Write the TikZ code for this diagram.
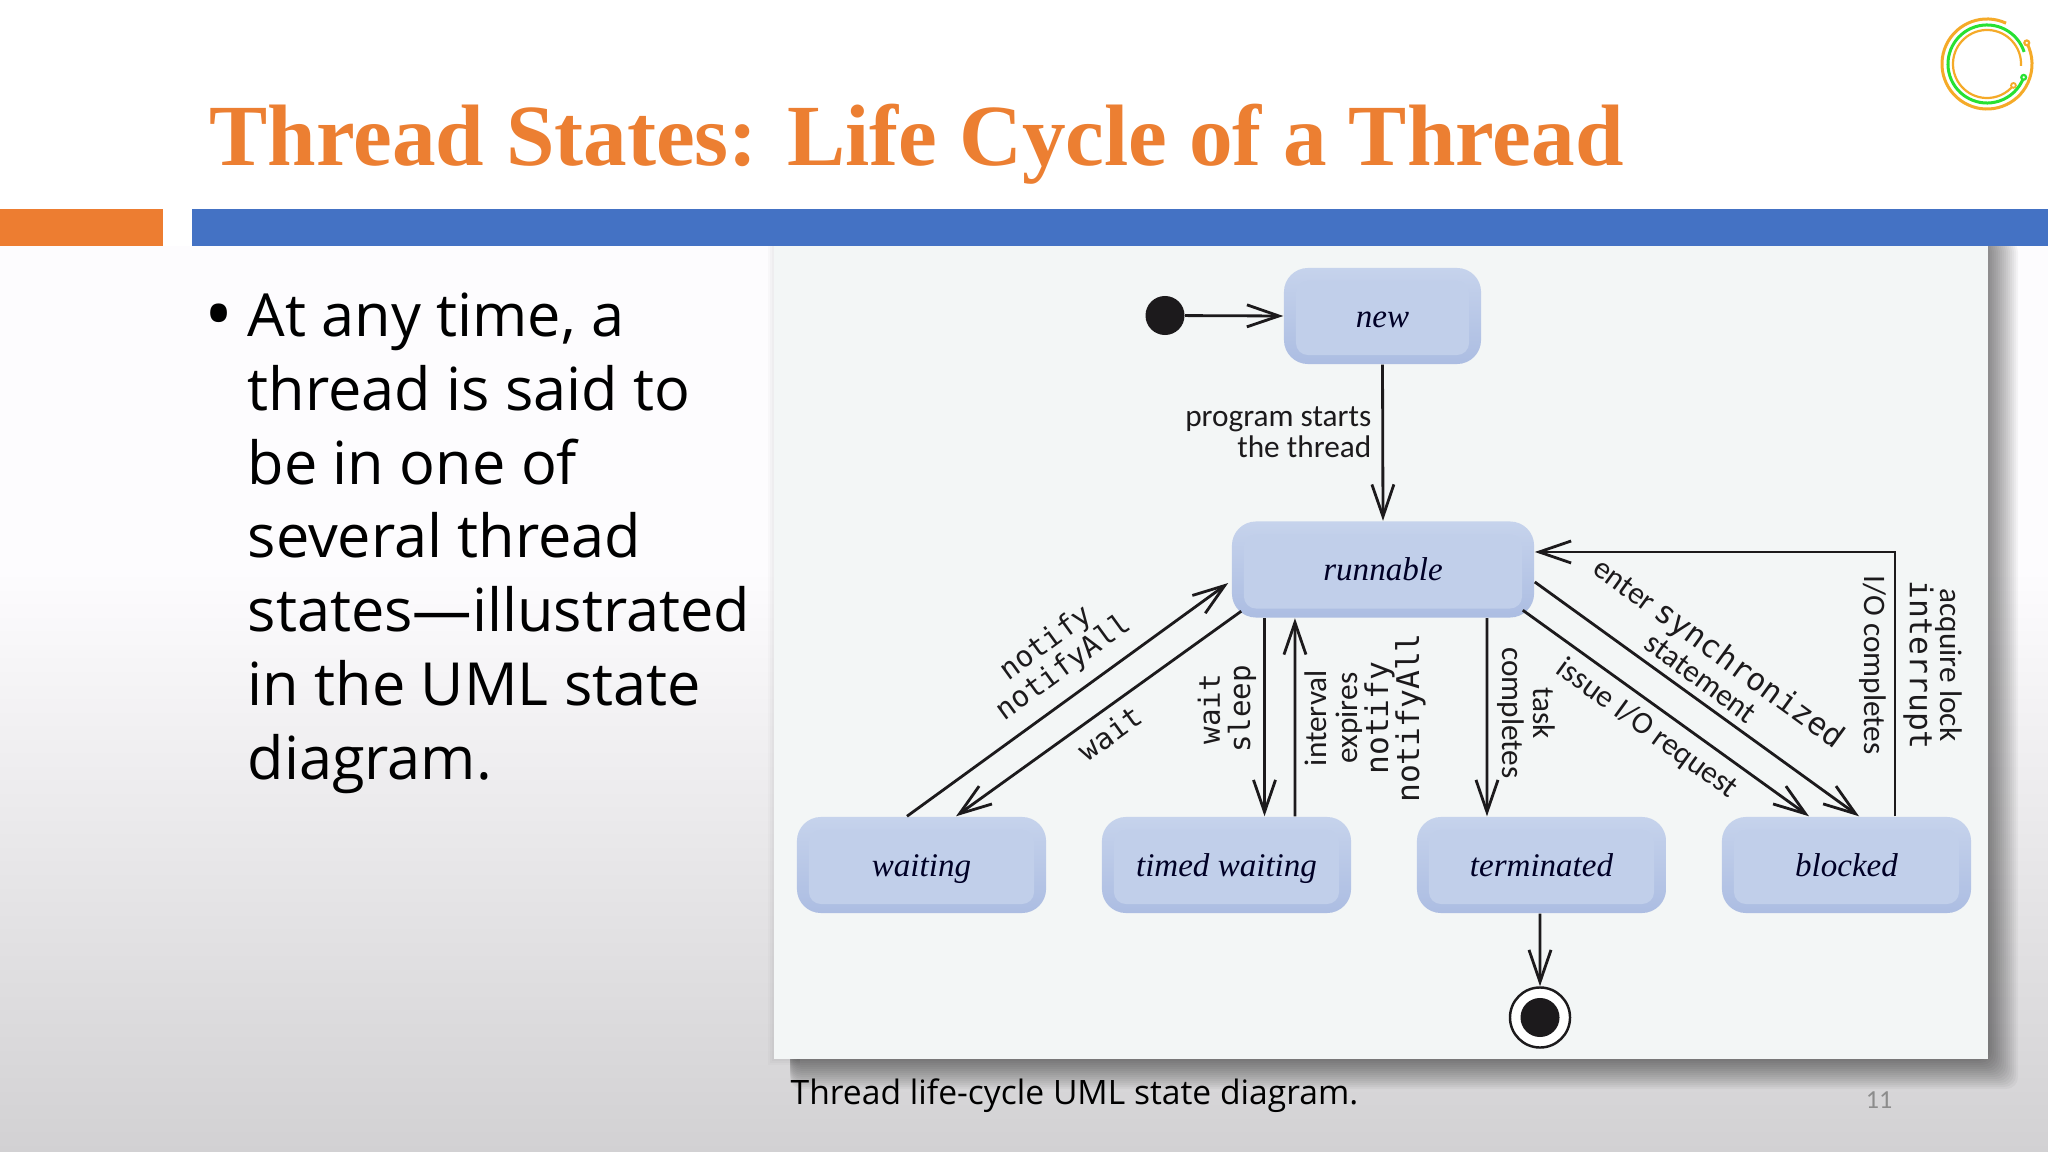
\documentclass[tikz,border=0pt]{standalone}
\usepackage{fontspec}
\setmainfont{Open Sans}
\setmonofont{DejaVu Sans Mono}
\newfontfamily\titlefont{Liberation Serif}
\newfontfamily\edgefont{Carlito}
\usetikzlibrary{arrows.meta}
\definecolor{slideorange}{RGB}{237, 125, 49}
\definecolor{slideblue}{RGB}{68, 114, 196}
\definecolor{titleorange}{RGB}{236, 127, 50}
\definecolor{panelgrey}{RGB}{243, 246, 246}
\definecolor{bevellight}{RGB}{198, 211, 236}
\definecolor{beveldark}{RGB}{172, 189, 226}
\definecolor{stateface}{RGB}{193, 207, 234}
\definecolor{slidewhite}{RGB}{253, 252, 254}
\definecolor{slidegrey}{RGB}{210, 209, 211}
\definecolor{inkblack}{RGB}{28, 26, 28}
\definecolor{logoamber}{RGB}{245, 170, 40}
\definecolor{logogreen}{RGB}{40, 225, 50}

\begin{document}
\begin{tikzpicture}[
    x=0.01cm, y=-0.01cm,
    statebox/.style={rectangle, rounded corners=0.24cm,
                minimum width=2.49cm, minimum height=0.96cm,
                align=center, inner sep=0pt, text=black!85!blue,
                text height=7.4pt, text depth=1pt,
                top color=bevellight, bottom color=beveldark,
                font=\titlefont\itshape\fontsize{9.4}{10}\selectfont,
                path picture={\fill[stateface, rounded corners=0.12cm]
                  ([xshift=0.12cm,yshift=-0.13cm]path picture bounding box.north west)
                  rectangle ([xshift=-0.12cm,yshift=0.09cm]path picture bounding box.south east);}},
    edgelbl/.style={align=center, inner sep=0pt, text=inkblack,
                font=\edgefont\fontsize{8.9}{8.8}\selectfont},
    codelbl/.style={align=center, inner sep=0pt, text=inkblack,
                font=\ttfamily\fontsize{8.3}{8.6}\selectfont},
    arr/.style={-{Straight Barb[length=0.32cm,width=0.22cm]},
                draw=inkblack, line width=0.8pt},
  ]
  \useasboundingbox (0,0) rectangle (2048,1152);

  % ── Slide background ─────────────────────────────
  \fill[white] (0,0) rectangle (2048,246);
  \fill[slidewhite] (0,246) rectangle (2048,570);
  \shade[top color=slidewhite, bottom color=slidegrey] (0,570) rectangle (2048,1152);

  % ── Figure panel ─────────────────────────────────
  \foreach \s in {2,4,6}
    \fill[black, opacity=0.02] (774-\s,240) rectangle (800,1059+\s);
  \foreach \s in {2,4,...,30}
    \fill[black, opacity=0.036, rounded corners=0.12cm]
      (790,240) rectangle (1988+\s,1059+\s);
  \node[fill=panelgrey, minimum width=12.14cm, minimum height=8.13cm,
        inner sep=0pt] (panel) at (1381,652.5) {};

  % ── Title and bars ───────────────────────────────
  \fill[slideorange] (0,209) rectangle (163,246);
  \fill[slideblue] (192,209) rectangle (2048,246);
  \node[anchor=west, inner sep=0pt, text=titleorange,
        font=\titlefont\bfseries\fontsize{24.8}{27}\selectfont] (title) at (209,144)
        {Thread States: Life Cycle of a Thread};

  % ── Logo ─────────────────────────────────────────
  \begin{scope}[shift={(1987,64)}, x=1cm, y=1cm]
    \draw[logoamber, line width=0.03cm] (65:0.45) arc[start angle=65, end angle=388, radius=0.45];
    \draw[logogreen, line width=0.03cm] (18:0.39) arc[start angle=18, end angle=340, radius=0.39];
    \draw[logoamber, line width=0.022cm] (-3:0.34) arc[start angle=-3, end angle=321, radius=0.34];
    \filldraw[logoamber, fill=white, line width=0.022cm] (28:0.45) circle[radius=0.024];
    \filldraw[logogreen, fill=white, line width=0.022cm] (-20:0.39) circle[radius=0.024];
    \filldraw[logoamber, fill=white, line width=0.018cm] (-39:0.34) circle[radius=0.024];
  \end{scope}

  % ── Bullet text ──────────────────────────────────
  \node[anchor=north west, inner sep=0pt, text=black, align=left,
        font=\fontsize{16.9}{21}\selectfont] (body) at (247,292)
        {At any time, a\\thread is said to\\be in one of\\several thread\\states—illustrated\\in the UML state\\diagram.};
  \node[anchor=center, inner sep=0pt, text=black,
        font=\fontsize{22}{24}\selectfont] (bullet) at (219,323) {•};

  % ── States ───────────────────────────────────────
  \node[circle, fill=inkblack, minimum size=0.39cm, inner sep=0pt] (start) at (1165,315.5) {};
  \node[statebox, minimum width=1.97cm] (new) at (1382.5,316) {new};
  \node[statebox, minimum width=3.02cm] (runnable) at (1383,569.5) {runnable};
  \node[statebox] (waiting)    at ( 921.5,865) {waiting};
  \node[statebox] (timed)      at (1226.5,865) {timed waiting};
  \node[statebox] (terminated) at (1541.5,865) {terminated};
  \node[statebox] (blocked)    at (1846.5,865) {blocked};
  \node[circle, draw=inkblack, fill=white, line width=0.7pt, minimum size=0.6cm,
        inner sep=0pt] (final) at (1540,1017.5) {};
  \node[circle, fill=inkblack, minimum size=0.39cm, inner sep=0pt] (finaldot) at (final) {};

  % ── Transitions ──────────────────────────────────
  \draw[arr] (start) -- (new.west);
  \draw[arr] (new.south) -- (runnable.north);
  \draw[arr] ([xshift=-0.145cm]waiting.north) -- ([xshift=-0.03cm,yshift=-0.135cm]runnable.west);
  \draw[arr] ([xshift=0.10cm,yshift=0.07cm]runnable.south west) -- ([xshift=0.345cm]waiting.north);
  \draw[arr] ([xshift=-1.185cm]runnable.south) -- ([xshift=0.38cm]timed.north);
  \draw[arr] ([xshift=0.685cm]timed.north) -- ([xshift=-0.88cm]runnable.south);
  \draw[arr] ([xshift=1.04cm]runnable.south) -- ([xshift=-0.545cm]terminated.north);
  \draw[arr] ([yshift=-0.125cm]runnable.east) -- ([xshift=0.125cm]blocked.north);
  \draw[arr] ([xshift=-0.12cm,yshift=0.08cm]runnable.south east) -- ([xshift=-0.375cm]blocked.north);
  \draw[arr] ([xshift=0.485cm]blocked.north) |- ([yshift=0.175cm]runnable.east);
  \draw[arr] ([xshift=-0.015cm]terminated.south) -- (final.north);

  % ── Transition labels ────────────────────────────
  \node[edgelbl, anchor=east, align=right] (lblstarts) at (1372,432) {program starts\\the thread};
  \node[codelbl, rotate=36] (lblnotify) at (1055,656) {notify\\notifyAll};
  \node[codelbl, rotate=36] (lblwait) at (1110,733) {wait};
  \node[codelbl, rotate=90] (lblsleep) at (1227,709) {wait\\sleep};
  \node[edgelbl, rotate=90] (lblinterval) at (1365,718)
        {interval\\expires\\{\ttfamily notify}\\{\ttfamily notifyAll}};
  \node[edgelbl, rotate=-90] (lbltask) at (1526,713) {task\\completes};
  \node[edgelbl, rotate=-36] (lblsync) at (1711,664)
        {enter {\ttfamily synchronized}\\statement};
  \node[edgelbl, rotate=-36] (lblissue) at (1647,729) {issue I/O request};
  \node[edgelbl, rotate=-90] (lblio) at (1873,665) {I/O completes};
  \node[edgelbl, rotate=-90] (lbllock) at (1933,665) {acquire lock\\{\ttfamily interrupt}};

  % ── Caption and page number ──────────────────────
  \node[anchor=west, inner sep=0pt, text=black,
        font=\fontsize{9.56}{12}\selectfont] (caption) at (790,1096)
        {Thread life-cycle UML state diagram.};
  \node[inner sep=0pt, text=black!45, font=\edgefont\fontsize{7.4}{9}\selectfont] (pagenum) at (1879,1100) {11};
\end{tikzpicture}
\end{document}
